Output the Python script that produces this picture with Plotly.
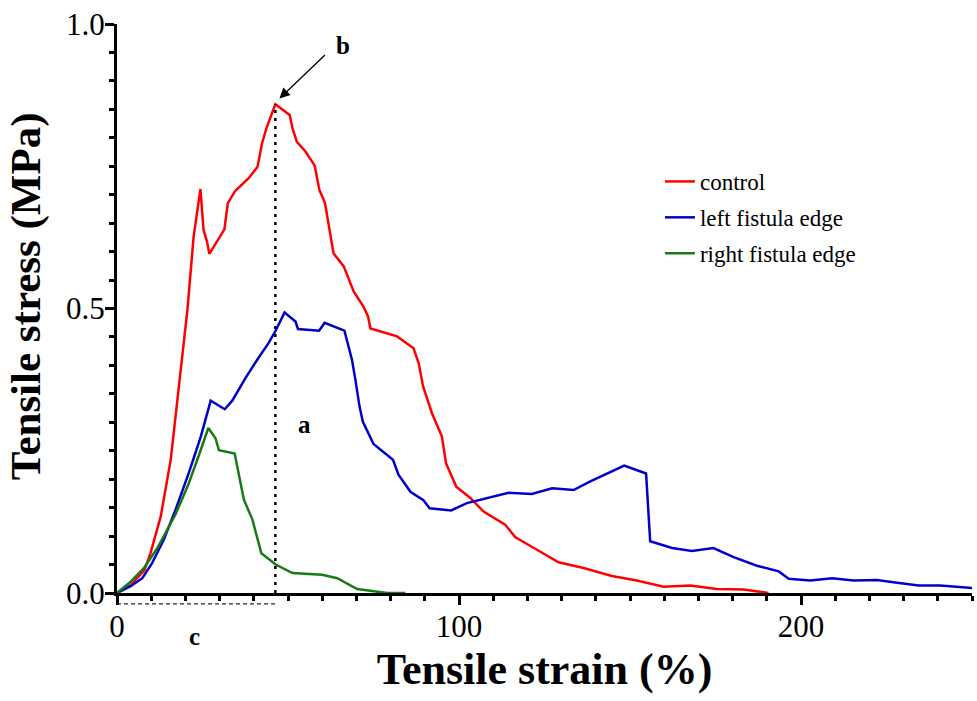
import plotly.graph_objects as go

# ---- data ----
control_x = [0, 4, 8, 9.8, 12.8, 15.7, 18.1, 20.6, 22.4, 24.4, 25.3, 26.3, 27.0, 31.4, 32.4, 34.6,
             38.5, 41.1, 42.4, 43.7, 46.3, 50.5, 51.3, 52.6, 55.1, 57.8, 59.2, 60.8, 63.3, 66.3,
             69.2, 72.1, 73.4, 74.1, 81.9, 86.7, 88.2, 89.5, 92.1, 95.0, 96.2, 99.2, 103.3, 107.2,
             113.5, 116.5, 122.8, 129.1, 136.4, 144.7, 152.0, 159.8, 167.6, 175.4, 183.2, 190.5]
control_y = [0, 0.014, 0.040, 0.070, 0.135, 0.234, 0.363, 0.498, 0.626, 0.710, 0.638, 0.618, 0.596,
             0.639, 0.685, 0.707, 0.729, 0.749, 0.790, 0.817, 0.859, 0.840, 0.817, 0.793, 0.776,
             0.751, 0.708, 0.686, 0.597, 0.574, 0.530, 0.503, 0.486, 0.465, 0.451, 0.430, 0.404,
             0.363, 0.316, 0.275, 0.228, 0.187, 0.167, 0.143, 0.120, 0.098, 0.076, 0.054, 0.044,
             0.030, 0.022, 0.011, 0.013, 0.007, 0.006, 0.0]

left_x = [0, 4.0, 7.4, 10.3, 13.7, 17.1, 21.0, 24.5, 27.4, 31.5, 33.7, 37.6, 41.0, 44.3, 46.3, 49.0,
          52.2, 52.9, 59.1, 60.7, 66.5, 68.7, 69.7, 70.9, 71.9, 75.0, 80.7, 82.3, 85.8, 89.6, 91.4,
          97.7, 102.3, 106.2, 114.5, 121.3, 127.2, 133.5, 138.4, 148.3, 154.7, 155.9, 162.3, 168.1,
          174.4, 180.3, 187.1, 193.5, 196.4, 202.7, 209.1, 215.4, 222.2, 228.1, 234.4, 240.7, 250.0]
left_y = [0, 0.012, 0.026, 0.053, 0.094, 0.146, 0.211, 0.275, 0.338, 0.323, 0.338, 0.378, 0.410,
          0.439, 0.460, 0.493, 0.477, 0.464, 0.461, 0.475, 0.461, 0.410, 0.375, 0.328, 0.301, 0.262,
          0.234, 0.208, 0.178, 0.163, 0.149, 0.145, 0.158, 0.164, 0.176, 0.174, 0.184, 0.181, 0.196,
          0.224, 0.210, 0.091, 0.079, 0.074, 0.079, 0.063, 0.048, 0.038, 0.025, 0.022, 0.026, 0.022,
          0.023, 0.018, 0.013, 0.013, 0.009]

right_x = [0, 4.0, 7.9, 11.8, 17.1, 21.0, 24.0, 26.7, 28.8, 29.8, 34.4, 36.3, 37.1, 39.6, 42.2, 46.4,
           51.3, 60.0, 64.4, 70.2, 79.0, 84.3]
right_y = [0, 0.020, 0.044, 0.079, 0.138, 0.193, 0.243, 0.290, 0.272, 0.251, 0.245, 0.184, 0.164,
           0.129, 0.070, 0.050, 0.035, 0.032, 0.026, 0.007, 0.0, 0.0]

series_names = ["control", "left fistula edge", "right fistula edge"]
series_colors = ["#ff0000", "#0000cc", "#177a17"]

x_tickvals = [0, 100, 200]
y_tickvals = [0, 0.5, 1.0]
y_ticktext = ["0.0", "0.5", "1.0"]

FONT = "Liberation Serif"

fig = go.Figure()
for name, xs, ys, col in zip(series_names, [control_x, left_x, right_x],
                             [control_y, left_y, right_y], series_colors):
    fig.add_trace(go.Scatter(x=xs, y=ys, mode="lines", name=name, legendgroup=name,
                             line=dict(color=col, width=2.5)))

# peak of the control curve
i_peak = max(range(len(control_y)), key=lambda i: control_y[i])
px_peak, py_peak = control_x[i_peak], control_y[i_peak]

# dotted vertical line at the peak
fig.add_shape(type="line", xref="x", yref="y", x0=px_peak, x1=px_peak, y0=0, y1=py_peak,
              line=dict(color="black", width=2.5, dash="3px,5px"))
# dashed horizontal line below the axis (strain at peak)
fig.add_shape(type="line", xref="x", yref="paper", x0=0, x1=px_peak, y0=-0.019, y1=-0.019,
              line=dict(color="#222222", width=1.3, dash="4px,3px"))

# arrow pointing at the peak
fig.add_annotation(x=px_peak + 1.2, y=py_peak + 0.01, xref="x", yref="y", text="",
                   showarrow=True, ax=47, ay=-45, arrowhead=2, arrowsize=1.6,
                   arrowwidth=1.3, arrowcolor="black", standoff=0)

lbl_font = dict(family=FONT, size=25, color="black")
fig.add_annotation(x=54.8, y=0.296, xref="x", yref="y", text="<b>a</b>", showarrow=False,
                   font=lbl_font, xanchor="center", yanchor="middle")
fig.add_annotation(x=66.2, y=0.963, xref="x", yref="y", text="<b>b</b>", showarrow=False,
                   font=lbl_font, xanchor="center", yanchor="middle")
fig.add_annotation(x=22.6, y=-0.077, xref="x", yref="paper", text="<b>c</b>", showarrow=False,
                   font=lbl_font, xanchor="center", yanchor="middle")

# y-axis title (slightly above the axis centre, as in the reference)
fig.add_annotation(x=-0.106, y=0.522, xref="paper", yref="paper", text="<b>Tensile stress (MPa)</b>",
                   textangle=-90, showarrow=False, xanchor="center", yanchor="middle",
                   font=dict(family=FONT, size=43, color="black"))

fig.update_layout(
    width=977, height=701,
    margin=dict(l=117, r=5, t=24, b=108, autoexpand=False),
    paper_bgcolor="white", plot_bgcolor="white",
    font=dict(family=FONT, color="black"),
    showlegend=True,
    legend=dict(x=0.635, y=0.761, xanchor="left", yanchor="top",
                font=dict(family=FONT, size=23, color="black"),
                bgcolor="rgba(0,0,0,0)", tracegroupgap=3),
)

fig.update_xaxes(
    range=[0, 250], showgrid=False, zeroline=False, automargin=False,
    showline=True, linecolor="black", linewidth=3,
    tickmode="array", tickvals=x_tickvals,
    ticks="outside", ticklen=9, tickwidth=3, tickcolor="black",
    ticklabelstandoff=-5,
    tickfont=dict(family=FONT, size=31, color="black"),
    minor=dict(dtick=10, ticks="outside", ticklen=5, tickwidth=3, tickcolor="black", showgrid=False),
    title=dict(text="<b>Tensile strain (%)</b>", font=dict(family=FONT, size=44, color="black"),
               standoff=10),
)
fig.update_yaxes(
    range=[0, 1.0], showgrid=False, zeroline=False, automargin=False,
    showline=True, linecolor="black", linewidth=3,
    tickmode="array", tickvals=y_tickvals, ticktext=y_ticktext,
    ticks="outside", ticklen=9, tickwidth=3, tickcolor="black",
    ticklabelstandoff=-6,
    tickfont=dict(family=FONT, size=31, color="black"),
    minor=dict(dtick=0.05, ticks="outside", ticklen=5, tickwidth=3, tickcolor="black", showgrid=False),
)

# remove the browser's default page margin so the figure sits at the window's top-left corner
fig.write_html("out.html", config={"displayModeBar": False},
               post_script="document.body.style.margin='0px';")
